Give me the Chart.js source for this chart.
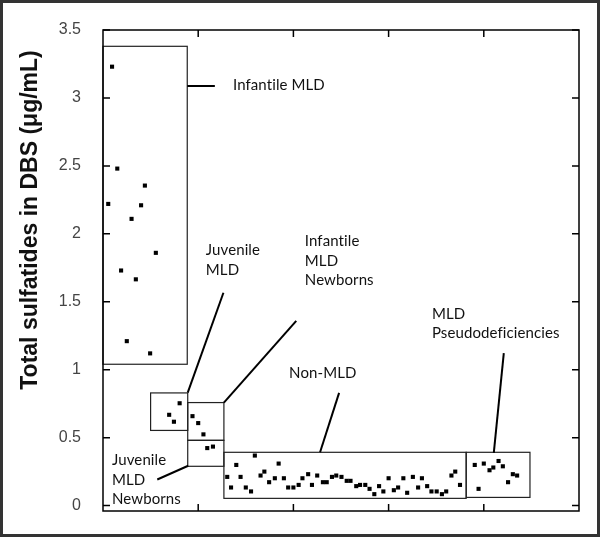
<!DOCTYPE html>
<html>
<head>
<meta charset="utf-8">
<script src="https://cdn.jsdelivr.net/npm/chart.js@4"></script>
<style>
  body { margin: 0; background: #fff; }
</style>
</head>
<body>
<canvas id="chart" width="600" height="537"></canvas>
<script>
// Values (x is just sample position, 0..100)
const yTickLabels = ["0", "0.5", "1", "1.5", "2", "2.5", "3", "3.5"];

const infantileX = [1.9, 3.0, 8.8, 1.1, 8.0, 6.0, 11.1, 3.8, 6.9, 5.0, 9.9];
const infantileY = [3.23, 2.48, 2.355, 2.22, 2.21, 2.11, 1.86, 1.73, 1.665, 1.21, 1.12];

const juvenileX = [16.1, 13.9, 14.9];
const juvenileY = [0.753, 0.668, 0.617];

const infNewbornX = [18.8, 20.0, 21.1];
const infNewbornY = [0.658, 0.607, 0.524];

const juvNewbornX = [21.9, 23.1];
const juvNewbornY = [0.423, 0.434];

const nonMldX = [26.1, 26.9, 28.0, 28.9, 30.0, 31.1, 31.9, 33.1, 33.9, 34.9,
  36.1, 36.9, 38.0, 38.9, 40.0, 41.1, 41.9, 43.1, 43.9, 45.0,
  46.2, 47.0, 48.1, 49.0, 50.1, 51.2, 52.0, 53.2, 54.0, 55.1,
  56.0, 57.0, 58.0, 58.9, 60.0, 61.1, 62.0, 63.1, 63.9, 65.1,
  66.2, 67.0, 68.1, 69.0, 70.1, 71.2, 72.1, 73.2, 74.0, 75.0];
const nonMldY = [0.211, 0.133, 0.299, 0.211, 0.133, 0.104, 0.368, 0.221, 0.250, 0.172,
  0.201, 0.309, 0.201, 0.133, 0.133, 0.152, 0.201, 0.231, 0.152, 0.221,
  0.172, 0.172, 0.211, 0.221, 0.211, 0.182, 0.182, 0.143, 0.152, 0.152,
  0.123, 0.084, 0.143, 0.104, 0.201, 0.113, 0.133, 0.201, 0.094, 0.211,
  0.133, 0.201, 0.143, 0.104, 0.104, 0.084, 0.104, 0.221, 0.250, 0.152];

const pseudoX = [78.1, 80.0, 81.2, 82.0, 83.1, 84.0, 86.1, 87.0, 85.1, 78.9];
const pseudoY = [0.299, 0.309, 0.260, 0.280, 0.328, 0.289, 0.231, 0.221, 0.172, 0.123];

// group boxes [xMin, xMax, yMin, yMax] in data units
const groupBoxes = [
  [0, 17.7, 1.04, 3.38],
  [10.0, 17.8, 0.553, 0.829],
  [17.8, 25.4, 0.480, 0.758],
  [17.8, 25.4, 0.289, 0.480],
  [25.4, 76.3, 0.053, 0.392],
  [76.3, 89.7, 0.060, 0.392]
];

// leader lines [x1, y1, x2, y2] in data units
const leaderLines = [
  [17.7, 3.088, 23.5, 3.088],
  [17.8, 0.831, 25.3, 1.566],
  [25.4, 0.758, 40.6, 1.359],
  [45.6, 0.392, 49.6, 0.829],
  [82.1, 0.388, 84.2, 1.122],
  [17.9, 0.293, 11.4, 0.192]
];

// group labels: lines, anchor x, first line y (data units)
const groupLabels = [
  { lines: ["Infantile MLD"], x: 27.3, y: 3.095 },
  { lines: ["Juvenile", "MLD"], x: 21.6, y: 1.879 },
  { lines: ["Infantile", "MLD", "Newborns"], x: 42.4, y: 1.945 },
  { lines: ["Non-MLD"], x: 39.1, y: 0.971 },
  { lines: ["MLD", "Pseudodeficiencies"], x: 69.1, y: 1.410 },
  { lines: ["Juvenile", "MLD", "Newborns"], x: 1.9, y: 0.333 }
];

const yTitle = "Total sulfatides in DBS (\u03bcg/mL)";

function toPoints(xs, ys) {
  return xs.map((x, i) => ({ x: x, y: ys[i] }));
}

function series(label, xs, ys) {
  return {
    label: label,
    data: toPoints(xs, ys),
    pointStyle: "rect",
    pointRadius: 2.9,
    pointHoverRadius: 2.9,
    pointBorderWidth: 0,
    backgroundColor: "#000",
    borderColor: "#000"
  };
}

const decorations = {
  id: "decorations",
  beforeDatasetsDraw(chart) {
    const ctx = chart.ctx;
    const xs = chart.scales.x;
    const ys = chart.scales.y;
    ctx.save();
    // boxes
    ctx.strokeStyle = "#222";
    ctx.lineWidth = 1.2;
    groupBoxes.forEach(b => {
      const x0 = xs.getPixelForValue(b[0]);
      const x1 = xs.getPixelForValue(b[1]);
      const y0 = ys.getPixelForValue(b[3]);
      const y1 = ys.getPixelForValue(b[2]);
      ctx.strokeRect(x0, y0, x1 - x0, y1 - y0);
    });
    // leader lines
    ctx.strokeStyle = "#000";
    ctx.lineWidth = 2;
    leaderLines.forEach(l => {
      ctx.beginPath();
      ctx.moveTo(xs.getPixelForValue(l[0]), ys.getPixelForValue(l[1]));
      ctx.lineTo(xs.getPixelForValue(l[2]), ys.getPixelForValue(l[3]));
      ctx.stroke();
    });
    // labels
    ctx.fillStyle = "#111";
    ctx.font = "15px Lato";
    ctx.letterSpacing = "0.1px"; // keeps "ti" from ligating
    ctx.textAlign = "left";
    ctx.textBaseline = "middle";
    groupLabels.forEach(g => {
      const px = xs.getPixelForValue(g.x);
      const py = ys.getPixelForValue(g.y);
      g.lines.forEach((t, i) => ctx.fillText(t, px, py + i * 19.5));
    });
    ctx.restore();
  },
  afterDraw(chart) {
    const ctx = chart.ctx;
    const a = chart.chartArea;
    const xs = chart.scales.x;
    const ys = chart.scales.y;
    ctx.save();
    // plot frame
    ctx.strokeStyle = "#000";
    ctx.lineWidth = 1.5;
    ctx.strokeRect(a.left, a.top, a.right - a.left, a.bottom - a.top);
    // inward ticks on all four sides
    const len = 7;
    ctx.beginPath();
    xs.ticks.forEach(t => {
      if (t.value <= xs.min || t.value >= xs.max) return;
      const px = xs.getPixelForValue(t.value);
      ctx.moveTo(px, a.bottom); ctx.lineTo(px, a.bottom - len);
      ctx.moveTo(px, a.top); ctx.lineTo(px, a.top + len);
    });
    ys.ticks.forEach(t => {
      const py = ys.getPixelForValue(t.value);
      ctx.moveTo(a.left, py); ctx.lineTo(a.left + len, py);
      ctx.moveTo(a.right, py); ctx.lineTo(a.right - len, py);
    });
    ctx.stroke();
    // y axis title
    ctx.fillStyle = "#111";
    ctx.font = "bold 23px 'Liberation Sans', Arial, sans-serif";
    ctx.textAlign = "center";
    ctx.textBaseline = "middle";
    ctx.translate(31, 220);
    ctx.rotate(-Math.PI / 2);
    ctx.fillText(yTitle, 0, 0);
    ctx.restore();
    // outer picture border
    ctx.save();
    ctx.strokeStyle = "#333";
    ctx.lineWidth = 3;
    ctx.strokeRect(1.5, 1.5, chart.width - 3, chart.height - 3);
    ctx.restore();
  }
};

new Chart(document.getElementById("chart"), {
  type: "scatter",
  data: {
    datasets: [
      series("Infantile MLD", infantileX, infantileY),
      series("Juvenile MLD", juvenileX, juvenileY),
      series("Infantile MLD Newborns", infNewbornX, infNewbornY),
      series("Juvenile MLD Newborns", juvNewbornX, juvNewbornY),
      series("Non-MLD", nonMldX, nonMldY),
      series("MLD Pseudodeficiencies", pseudoX, pseudoY)
    ]
  },
  options: {
    responsive: false,
    animation: false,
    devicePixelRatio: 1,
    layout: { padding: { top: 30, right: 21, bottom: 26, left: 0 } },
    plugins: {
      legend: { display: false },
      tooltip: { enabled: false }
    },
    scales: {
      x: {
        type: "linear",
        min: 0,
        max: 100,
        ticks: { display: false, stepSize: 20 },
        grid: { display: false },
        border: { display: false },
        afterFit: s => { s.height = 0; }
      },
      y: {
        type: "linear",
        min: -0.04,
        max: 3.5,
        ticks: {
          stepSize: 0.5,
          includeBounds: false,
          padding: 14,
          color: "#444",
          font: { family: "'Liberation Sans', Arial, sans-serif", size: 16 },
          callback: v => yTickLabels[Math.round(v / 0.5)]
        },
        grid: { display: false },
        border: { display: false },
        afterFit: s => { s.width = 103; }
      }
    }
  },
  plugins: [decorations]
});
</script>
</body>
</html>
